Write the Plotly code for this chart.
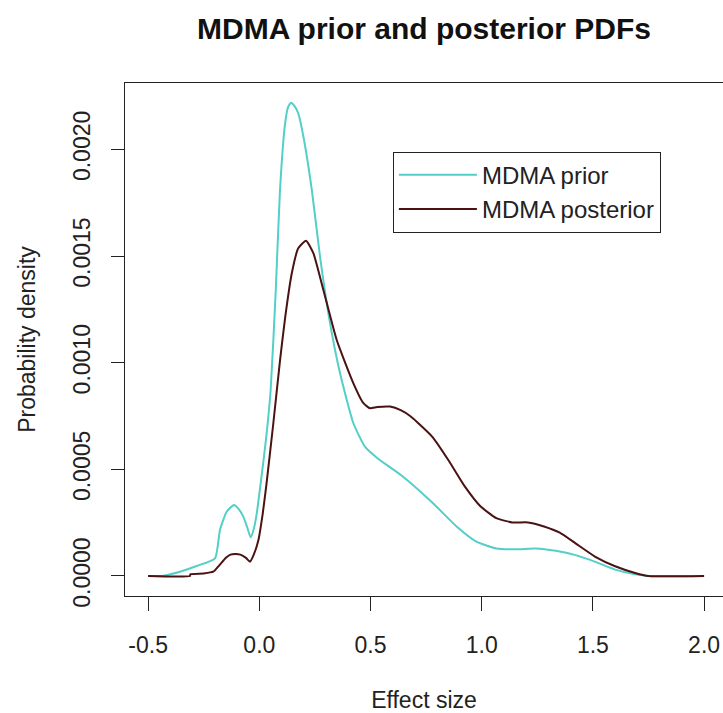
import plotly.graph_objects as go

# ---- data ----
prior_x = [-0.5, -0.44, -0.40, -0.357, -0.282, -0.199, -0.177, -0.147, -0.114, -0.09,
           -0.072, -0.055, -0.039, -0.025, -0.012, 0.008, 0.030, 0.051, 0.074, 0.093,
           0.116, 0.130, 0.143, 0.160, 0.175, 0.201, 0.236, 0.273, 0.318, 0.363,
           0.423, 0.475, 0.531, 0.638, 0.780, 0.887, 0.976, 1.066, 1.155, 1.244,
           1.333, 1.422, 1.511, 1.600, 1.690, 1.750, 2.0]
prior_y = [0, 0, 0.000008, 0.00002, 0.000047, 0.000083, 0.000216, 0.000301, 0.000333, 0.00031,
           0.000278, 0.00023, 0.000181, 0.00022, 0.00029, 0.00045, 0.00064, 0.000872, 0.001341, 0.00181,
           0.002122, 0.0022, 0.002219, 0.0022, 0.002169, 0.002044, 0.00181, 0.001497, 0.001185, 0.00095,
           0.000716, 0.000606, 0.000552, 0.000472, 0.000342, 0.000232, 0.000161, 0.000129, 0.000125, 0.000129,
           0.000118, 0.0000978, 0.0000662, 0.00003, 0.000008, 0, 0]

post_x = [-0.5, -0.312, -0.31, -0.25, -0.207, -0.18, -0.15, -0.13, -0.109, -0.085,
          -0.06, -0.042, -0.025, -0.004, 0.015, 0.032, 0.063, 0.093, 0.116, 0.146,
          0.175, 0.210, 0.243, 0.288, 0.348, 0.423, 0.468, 0.498, 0.530, 0.588,
          0.638, 0.678, 0.709, 0.780, 0.852, 0.923, 0.994, 1.066, 1.137, 1.208,
          1.280, 1.351, 1.422, 1.511, 1.600, 1.690, 1.750, 2.0]
post_y = [0, 0, 0.000008, 0.000012, 0.00002, 0.00005, 0.000085, 0.0001, 0.000103, 0.0001,
          0.000085, 0.000067, 0.0001, 0.000169, 0.00029, 0.00043, 0.000716, 0.00101, 0.00121, 0.001419,
          0.001536, 0.001572, 0.001513, 0.001341, 0.001106, 0.000903, 0.00081, 0.000786, 0.000792, 0.000794,
          0.000776, 0.00075, 0.000722, 0.00065, 0.00054, 0.000421, 0.000327, 0.000271, 0.000251, 0.000251,
          0.000232, 0.000203, 0.000153, 0.00009, 0.0000457, 0.0000142, 0, 0]

x_ticks = [-0.5, 0.0, 0.5, 1.0, 1.5, 2.0]
x_tick_labels = ["-0.5", "0.0", "0.5", "1.0", "1.5", "2.0"]
y_ticks = [0.0, 0.0005, 0.0010, 0.0015, 0.0020]
y_tick_labels = ["0.0000", "0.0005", "0.0010", "0.0015", "0.0020"]

series_names = ["MDMA prior", "MDMA posterior"]
colors = ["#52cfc8", "#4a1212"]

FONT = "Liberation Sans, Arial, sans-serif"

fig = go.Figure()
fig.add_trace(go.Scatter(x=prior_x, y=prior_y, mode="lines", name=series_names[0],
                         line=dict(color=colors[0], width=2, shape="spline", smoothing=0.5)))
fig.add_trace(go.Scatter(x=post_x, y=post_y, mode="lines", name=series_names[1],
                         line=dict(color=colors[1], width=2, shape="spline", smoothing=0.5)))

fig.update_layout(
    width=723, height=713,
    margin=dict(l=125, r=0, t=83, b=117, pad=0),
    paper_bgcolor="white", plot_bgcolor="white",
    font=dict(family=FONT, size=23, color="#222222"),
    title=dict(text="<b>MDMA prior and posterior PDFs</b>", x=0.5, xref="paper",
               y=1 - 28 / 713, yref="container", yanchor="middle", xanchor="center",
               font=dict(family=FONT, size=30, color="#111111")),
    showlegend=True,
    legend=dict(x=0.448, y=0.866, xanchor="left", yanchor="top",
                bordercolor="#222222", borderwidth=1, bgcolor="white",
                font=dict(family=FONT, size=24, color="#222222"),
                itemwidth=78, tracegroupgap=0),
    xaxis=dict(range=[-0.604, 2.085], tickvals=x_ticks, ticktext=x_tick_labels,
               showgrid=False, zeroline=False, showline=True, linecolor="#222222",
               linewidth=1, mirror=True, ticks="outside", ticklen=14, tickcolor="#222222",
               ticklabelstandoff=14,
               title=dict(text="Effect size", standoff=40, font=dict(size=23))),
    yaxis=dict(range=[-0.0000938, 0.002311], tickvals=y_ticks, ticktext=y_tick_labels,
               showgrid=False, zeroline=False, showline=True, linecolor="#222222",
               linewidth=1, mirror=False, ticks="outside", ticklen=13, tickcolor="#222222",
               tickangle=-90, ticklabelstandoff=12,
               title=dict(text="Probability density", standoff=26, font=dict(size=23))),
)

fig.write_html("out.html")
